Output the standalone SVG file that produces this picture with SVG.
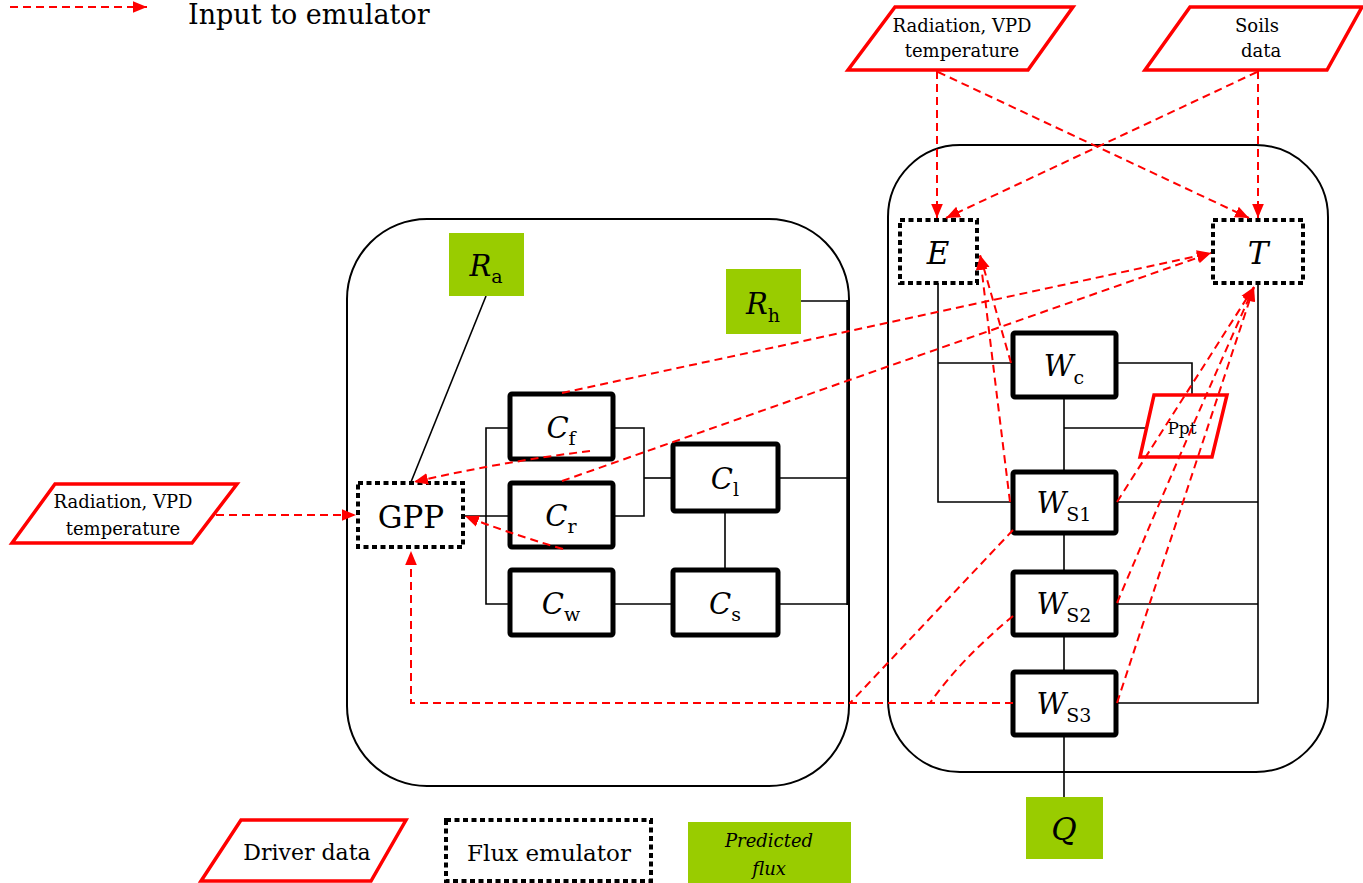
<svg xmlns="http://www.w3.org/2000/svg" width="1363" height="883" viewBox="0 0 1363 883">
  <defs>
    <marker id="ah" viewBox="0 0 12 10" refX="12" refY="5" markerWidth="14" markerHeight="12" markerUnits="userSpaceOnUse" orient="auto">
      <path d="M0,0 L12,5 L0,10 z" fill="#ff0000"/>
    </marker>
    <style>
      text { font-family: "DejaVu Serif", "Liberation Serif", serif; fill: #000; }
      .it { font-style: italic; }
      .outer { fill: none; stroke: #000; stroke-width: 2; }
      .pool { fill: #fff; stroke: #000; stroke-width: 5; }
      .emu { fill: #fff; stroke: #000; stroke-width: 4; stroke-dasharray: 5 3.5; }
      .drv { fill: #fff; stroke: #ff0000; stroke-width: 3.5; stroke-linejoin: miter; }
      .flux { fill: #99cc00; }
      .wire { fill: none; stroke: #000; stroke-width: 1.6; }
      .bus { fill: none; stroke: #000; stroke-width: 3.5; }
      .inp { fill: none; stroke: #ff0000; stroke-width: 2; stroke-dasharray: 8 5; marker-end: url(#ah); }
      .inp0 { fill: none; stroke: #ff0000; stroke-width: 2; stroke-dasharray: 8 5; }
      .drvtxt { font-size: 18px; }
      .big { font-size: 29px; }
      .sub { font-size: 19px; }
    </style>
  </defs>

  <rect width="1363" height="883" fill="#fff"/>

  <!-- legend: input arrow -->
  <g id="legend-input">
    <line class="inp" x1="10" y1="7" x2="147" y2="7"/>
    <text x="188" y="24" font-size="27">Input to emulator</text>
  </g>

  <!-- model compartments -->
  <g id="carbon-model">
    <rect class="outer" x="347" y="219" width="502" height="567" rx="80" ry="80"/>
  </g>
  <g id="water-model">
    <rect class="outer" x="888" y="145" width="440" height="627" rx="72" ry="72"/>
  </g>

  <!-- solid wiring between pools -->
  <g id="wiring">
    <!-- carbon side -->
    <line class="wire" x1="486" y1="296" x2="411" y2="482"/>
    <line class="wire" x1="463" y1="516" x2="510" y2="516"/>
    <polyline class="wire" points="510,428 486,428 486,604 510,604"/>
    <polyline class="wire" points="613,428 644,428 644,516 613,516"/>
    <line class="wire" x1="644" y1="478" x2="673" y2="478"/>
    <line class="wire" x1="778" y1="478" x2="848" y2="478"/>
    <line class="wire" x1="613" y1="604" x2="673" y2="604"/>
    <line class="wire" x1="778" y1="604" x2="848" y2="604"/>
    <line class="wire" x1="725" y1="511" x2="725" y2="570"/>
    <line class="wire" x1="801" y1="301" x2="848" y2="301"/>
    <line class="bus" x1="848" y1="300" x2="848" y2="605"/>
    <!-- water side -->
    <polyline class="wire" points="938,283 938,502 1013,502"/>
    <line class="wire" x1="938" y1="363" x2="1013" y2="363"/>
    <polyline class="wire" points="1116,363 1192,363 1192,395"/>
    <line class="wire" x1="1064" y1="397" x2="1064" y2="472"/>
    <line class="wire" x1="1064" y1="428" x2="1147" y2="428"/>
    <line class="wire" x1="1064" y1="533" x2="1064" y2="572"/>
    <line class="wire" x1="1064" y1="635" x2="1064" y2="672"/>
    <line class="wire" x1="1064" y1="735" x2="1064" y2="797"/>
    <polyline class="wire" points="1258,283 1258,703 1116,703"/>
    <line class="wire" x1="1116" y1="502" x2="1258" y2="502"/>
    <line class="wire" x1="1116" y1="604" x2="1258" y2="604"/>
  </g>

  <!-- driver data -->
  <g id="drv-met-top">
    <polygon class="drv" points="895,7 1073,7 1028,70 848,70"/>
    <text class="drvtxt" x="962" y="32" text-anchor="middle">Radiation, VPD</text>
    <text class="drvtxt" x="962" y="57" text-anchor="middle">temperature</text>
  </g>
  <g id="drv-soils">
    <polygon class="drv" points="1190,7 1362,7 1327,70 1145,70"/>
    <text class="drvtxt" x="1257" y="32" text-anchor="middle">Soils</text>
    <text class="drvtxt" x="1261" y="57" text-anchor="middle">data</text>
  </g>
  <g id="drv-met-left">
    <polygon class="drv" points="55,484 237,484 192,543 12,543"/>
    <text class="drvtxt" x="123" y="508" text-anchor="middle">Radiation, VPD</text>
    <text class="drvtxt" x="123" y="535" text-anchor="middle">temperature</text>
  </g>
  <g id="drv-ppt">
    <polygon class="drv" points="1154,395 1227,395 1212,457 1140,457"/>
    <text x="1182" y="434" font-size="17" text-anchor="middle">Ppt</text>
  </g>

  <!-- emulators -->
  <g id="emu-gpp">
    <rect class="emu" x="358" y="483" width="105" height="64"/>
    <text x="411" y="528" font-size="31" text-anchor="middle">GPP</text>
  </g>
  <g id="emu-e">
    <rect class="emu" x="900" y="220" width="77" height="63"/>
    <text class="it" x="938" y="264" font-size="31" text-anchor="middle">E</text>
  </g>
  <g id="emu-t">
    <rect class="emu" x="1213" y="220" width="90" height="63"/>
    <text class="it" x="1258" y="264" font-size="31" text-anchor="middle">T</text>
  </g>

  <!-- predicted fluxes -->
  <g id="flux-ra">
    <rect class="flux" x="449" y="233" width="75" height="63"/>
    <text x="486" y="276" text-anchor="middle"><tspan class="it big">R</tspan><tspan class="sub" dy="7">a</tspan></text>
  </g>
  <g id="flux-rh">
    <rect class="flux" x="726" y="269" width="75" height="65"/>
    <text x="763" y="314" text-anchor="middle"><tspan class="it big">R</tspan><tspan class="sub" dy="8">h</tspan></text>
  </g>
  <g id="flux-q">
    <rect class="flux" x="1026" y="797" width="77" height="62"/>
    <text class="it" x="1064" y="840" font-size="31" text-anchor="middle">Q</text>
  </g>

  <!-- carbon pools -->
  <g id="pool-cf">
    <rect class="pool" x="510" y="394" width="103" height="65" rx="2"/>
    <text x="561" y="438" text-anchor="middle"><tspan class="it big">C</tspan><tspan class="sub" dy="7">f</tspan></text>
  </g>
  <g id="pool-cr">
    <rect class="pool" x="510" y="483" width="103" height="64" rx="2"/>
    <text x="561" y="526" text-anchor="middle"><tspan class="it big">C</tspan><tspan class="sub" dy="7">r</tspan></text>
  </g>
  <g id="pool-cw">
    <rect class="pool" x="510" y="570" width="103" height="65" rx="2"/>
    <text x="561" y="614" text-anchor="middle"><tspan class="it big">C</tspan><tspan class="sub" dy="7">w</tspan></text>
  </g>
  <g id="pool-cl">
    <rect class="pool" x="673" y="444" width="105" height="67" rx="2"/>
    <text x="725" y="489" text-anchor="middle"><tspan class="it big">C</tspan><tspan class="sub" dy="7">l</tspan></text>
  </g>
  <g id="pool-cs">
    <rect class="pool" x="673" y="570" width="105" height="65" rx="2"/>
    <text x="725" y="614" text-anchor="middle"><tspan class="it big">C</tspan><tspan class="sub" dy="7">s</tspan></text>
  </g>

  <!-- water pools -->
  <g id="pool-wc">
    <rect class="pool" x="1013" y="333" width="103" height="64" rx="2"/>
    <text x="1064" y="376" text-anchor="middle"><tspan class="it big">W</tspan><tspan class="sub" dy="8">c</tspan></text>
  </g>
  <g id="pool-ws1">
    <rect class="pool" x="1013" y="472" width="103" height="61" rx="2"/>
    <text x="1064" y="513" text-anchor="middle"><tspan class="it big">W</tspan><tspan class="sub" dy="8">S1</tspan></text>
  </g>
  <g id="pool-ws2">
    <rect class="pool" x="1013" y="572" width="103" height="63" rx="2"/>
    <text x="1064" y="614" text-anchor="middle"><tspan class="it big">W</tspan><tspan class="sub" dy="8">S2</tspan></text>
  </g>
  <g id="pool-ws3">
    <rect class="pool" x="1013" y="672" width="103" height="63" rx="2"/>
    <text x="1064" y="714" text-anchor="middle"><tspan class="it big">W</tspan><tspan class="sub" dy="8">S3</tspan></text>
  </g>

  <!-- emulator inputs (dashed red) -->
  <g id="connectors">
    <!-- drivers at the top -->
    <line class="inp" x1="937" y1="71" x2="937" y2="218"/>
    <line class="inp" x1="938" y1="72" x2="1249" y2="218"/>
    <line class="inp" x1="1258" y1="71" x2="1258" y2="218"/>
    <line class="inp" x1="1257" y1="72" x2="946" y2="218"/>
    <!-- left driver into GPP -->
    <line class="inp" x1="216" y1="515" x2="356" y2="515"/>
    <!-- carbon pools into GPP -->
    <path class="inp" d="M590,451 Q500,462 414,482"/>
    <path class="inp" d="M563,549 Q505,532 465,516"/>
    <!-- soil water into GPP -->
    <polyline class="inp" points="1013,703 411,703 411,551"/>
    <line class="inp0" x1="1013" y1="530" x2="850" y2="703"/>
    <path class="inp0" d="M1013,616 Q960,660 930,703"/>
    <!-- carbon pools into T -->
    <line class="inp" x1="562" y1="393" x2="1211" y2="253"/>
    <line class="inp" x1="562" y1="481" x2="1211" y2="253"/>
    <!-- water pools into E -->
    <line class="inp" x1="1011" y1="363" x2="980" y2="255"/>
    <path class="inp" d="M1010,502 Q990,340 980,256"/>
    <!-- soil water into T -->
    <line class="inp" x1="1117" y1="502" x2="1254" y2="287"/>
    <path class="inp" d="M1117,603 Q1190,430 1254,287"/>
    <path class="inp" d="M1117,703 Q1200,450 1254,287"/>
  </g>

  <!-- legend -->
  <g id="legend-driver">
    <polygon class="drv" points="241,820 406,820 371,881 201,881"/>
    <text x="307" y="860" font-size="22" text-anchor="middle">Driver data</text>
  </g>
  <g id="legend-emulator">
    <rect class="emu" x="446" y="820" width="205" height="61"/>
    <text x="549" y="861" font-size="23" text-anchor="middle">Flux emulator</text>
  </g>
  <g id="legend-flux">
    <rect class="flux" x="688" y="822" width="163" height="61"/>
    <text class="it" x="769" y="847" font-size="18" text-anchor="middle">Predicted</text>
    <text class="it" x="769" y="875" font-size="18" text-anchor="middle">flux</text>
  </g>
</svg>
